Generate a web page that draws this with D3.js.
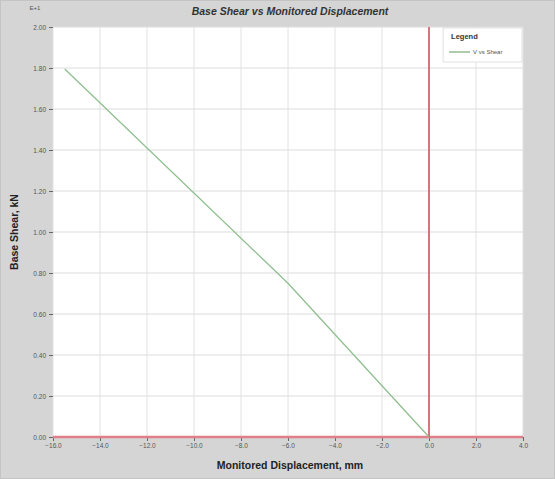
<!DOCTYPE html>
<html><head><meta charset="utf-8">
<script src="https://cdn.jsdelivr.net/npm/d3@7"></script>
<style>body{margin:0;background:#fff}svg{display:block}</style>
</head><body>
<script>
const displacement = [-15.5, -6.0, 0.0];
const baseShear = [17.95, 7.5, 0.0];
const xTicks = [-16, -14, -12, -10, -8, -6, -4, -2, 0, 2, 4];
const yTicks = [0, 2, 4, 6, 8, 10, 12, 14, 16, 18, 20];
const seriesName = "V vs Shear";

const W = 555, H = 479;
const m = {l: 53, r: 32, t: 27, b: 42};
const svg = d3.select("body").append("svg").attr("width", W).attr("height", H);
svg.append("rect").attr("x",0.5).attr("y",0.5).attr("width",W-1).attr("height",H-1)
  .attr("fill","#d5d5d5").attr("stroke","#c4c4c4");

const x = d3.scaleLinear().domain([-16,4]).range([m.l, W-m.r]);
const y = d3.scaleLinear().domain([0,20]).range([H-m.b, m.t]);

svg.append("rect").attr("x",m.l).attr("y",m.t).attr("width",x(4)-m.l).attr("height",y(0)-m.t).attr("fill","#fff");

// grid
svg.append("g").selectAll("line").data(xTicks).join("line")
  .attr("x1",d=>x(d)).attr("x2",d=>x(d)).attr("y1",m.t).attr("y2",y(0))
  .attr("stroke","#e2e2e2").attr("stroke-width",1);
svg.append("g").selectAll("line").data(yTicks).join("line")
  .attr("x1",m.l).attr("x2",x(4)).attr("y1",d=>y(d)).attr("y2",d=>y(d))
  .attr("stroke","#dcdcdc").attr("stroke-width",1);

// axes
const fs = "Arial, 'Liberation Sans', sans-serif";
const yAxis = svg.append("g").attr("transform",`translate(${m.l},0)`)
  .call(d3.axisLeft(y).tickValues(yTicks).tickSize(4).tickPadding(3).tickFormat(d=>d3.format(".2f")(d/10)));
yAxis.select(".domain").remove();
yAxis.selectAll("text").attr("font-size",6.5).attr("font-family",fs).attr("fill","#555");
yAxis.selectAll("line").attr("stroke","#666");

const xAxis = svg.append("g").attr("transform",`translate(0,${y(0)})`)
  .call(d3.axisBottom(x).tickValues(xTicks).tickSize(4).tickPadding(2).tickFormat(d=>d3.format(".1f")(d)));
xAxis.select(".domain").remove();
xAxis.selectAll("text").attr("font-size",6.5).attr("font-family",fs).attr("fill","#555");
xAxis.selectAll("line").attr("stroke","#666");

// red zero lines
svg.append("line").attr("x1",m.l).attr("x2",x(4)).attr("y1",y(0)).attr("y2",y(0))
  .attr("stroke","#e07f8a").attr("stroke-width",2.5);
svg.append("line").attr("x1",x(0)).attr("x2",x(0)).attr("y1",m.t).attr("y2",y(0))
  .attr("stroke","#d24a5a").attr("stroke-width",1.5);

// series
const pts = displacement.map((d,i)=>[d, baseShear[i]]);
svg.append("path").datum(pts)
  .attr("d", d3.line().x(d=>x(d[0])).y(d=>y(d[1])))
  .attr("fill","none").attr("stroke","#8fbf8f").attr("stroke-width",1.3);

// legend
const lg = svg.append("g").attr("transform",`translate(${x(0.6)},${m.t+1})`);
lg.append("rect").attr("width",x(4)-x(0.6)-1).attr("height",34).attr("fill","#fff").attr("stroke","#e0e0e0");
lg.append("text").attr("x",8).attr("y",11).text("Legend").attr("font-size",7.5).attr("font-weight","bold").attr("font-family",fs).attr("fill","#333");
lg.append("line").attr("x1",6).attr("x2",27).attr("y1",24).attr("y2",24).attr("stroke","#7fb07f").attr("stroke-width",1.3);
lg.append("text").attr("x",30).attr("y",26).text(seriesName).attr("font-size",6).attr("font-family",fs).attr("fill","#555");

// titles
svg.append("text").attr("x",290).attr("y",15).attr("text-anchor","middle")
  .text("Base Shear vs Monitored Displacement").attr("font-size",10.5).attr("font-weight","bold")
  .attr("font-style","italic").attr("font-family",fs).attr("fill","#333");
svg.append("text").attr("x",290).attr("y",469).attr("text-anchor","middle")
  .text("Monitored Displacement, mm").attr("font-size",10.5).attr("font-weight","bold").attr("font-family",fs).attr("fill","#222");
svg.append("text").attr("transform","translate(18,232) rotate(-90)").attr("text-anchor","middle")
  .text("Base Shear, kN").attr("font-size",10.5).attr("font-weight","bold").attr("font-family",fs).attr("fill","#222");
svg.append("text").attr("x",35).attr("y",10).attr("text-anchor","middle").text("E+1")
  .attr("font-size",6).attr("font-family",fs).attr("fill","#555");
</script>
</body></html>
